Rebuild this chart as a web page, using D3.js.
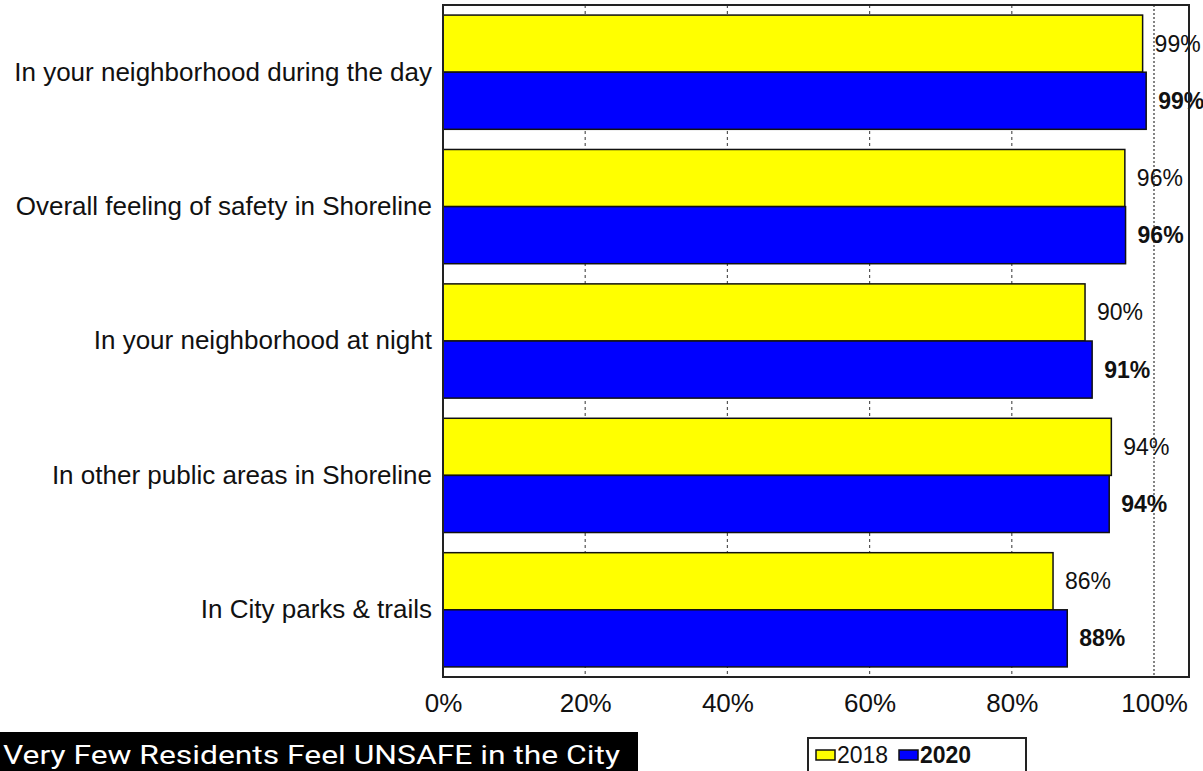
<!DOCTYPE html>
<html>
<head>
<meta charset="utf-8">
<script src="https://cdn.jsdelivr.net/npm/d3@7"></script>
<style>
  body { margin: 0; background: #fff; }
  svg { display: block; }
</style>
</head>
<body>
<script>
// Dimensions
const W = 1203, H = 771;
const plot = { left: 443, right: 1189, top: 5, bottom: 677 };
const FONT = "'Liberation Sans', Arial, sans-serif";

// Data
const CATEGORIES = [
  'In your neighborhood during the day',
  'Overall feeling of safety in Shoreline',
  'In your neighborhood at night',
  'In other public areas in Shoreline',
  'In City parks & trails'
];
const YEARS = ['2018', '2020'];
const VALUES_2018 = [98.4, 95.9, 90.3, 94.0, 85.8];
const VALUES_2020 = [98.9, 96.0, 91.3, 93.7, 87.8];
const LABELS_2018 = ['99%', '96%', '90%', '94%', '86%'];
const LABELS_2020 = ['99%', '96%', '91%', '94%', '88%'];
const X_TICKS = [0, 20, 40, 60, 80, 100];

// Colors
const YELLOW = '#ffff00';
const BLUE = '#0000ff';
const FG = '#111111';

const rows = CATEGORIES.map((c, i) => ({
  cat: c,
  bars: [
    { year: '2018', v: VALUES_2018[i], label: LABELS_2018[i] },
    { year: '2020', v: VALUES_2020[i], label: LABELS_2020[i] }
  ]
}));

// Scales
const x = d3.scaleLinear()
  .domain([0, 100])
  .range([plot.left, 1154]);

const y = d3.scaleBand()
  .domain(CATEGORIES)
  .range([plot.top, plot.bottom])
  .paddingInner(0.15)
  .paddingOuter(0.075);

const yInner = d3.scaleBand()
  .domain(YEARS)
  .range([0, y.bandwidth()]);

const color = d3.scaleOrdinal().domain(YEARS).range([YELLOW, BLUE]);

// SVG
const svg = d3.select('body').append('svg')
  .attr('width', W)
  .attr('height', H)
  .style('font-family', FONT);

svg.append('rect')
  .attr('width', W).attr('height', H)
  .attr('fill', '#fff');

// Grid
svg.append('g')
  .selectAll('line')
  .data(X_TICKS.filter(d => d > 0))
  .join('line')
  .attr('x1', d => x(d)).attr('x2', d => x(d))
  .attr('y1', plot.top).attr('y2', plot.bottom)
  .attr('stroke', d => d === 100 ? '#333' : '#555')
  .attr('stroke-width', 1.2)
  .attr('stroke-dasharray', d => d === 100 ? '2,2' : '3,3');

// Bars
const groups = svg.append('g')
  .selectAll('g')
  .data(rows)
  .join('g')
  .attr('transform', d => `translate(0,${y(d.cat)})`);

groups.selectAll('rect')
  .data(d => d.bars)
  .join('rect')
  .attr('x', x(0))
  .attr('y', d => yInner(d.year))
  .attr('width', d => x(d.v) - x(0))
  .attr('height', yInner.bandwidth())
  .attr('fill', d => color(d.year))
  .attr('stroke', FG)
  .attr('stroke-width', 1.5);

groups.selectAll('text')
  .data(d => d.bars)
  .join('text')
  .attr('x', d => x(d.v) + 12)
  .attr('y', d => yInner(d.year) + yInner.bandwidth() / 2)
  .attr('dy', '0.35em')
  .attr('font-size', '23px')
  .attr('font-weight', d => d.year === '2020' ? 'bold' : 'normal')
  .attr('fill', FG)
  .text(d => d.label);

// Frame
svg.append('rect')
  .attr('x', plot.left).attr('y', plot.top)
  .attr('width', plot.right - plot.left)
  .attr('height', plot.bottom - plot.top)
  .attr('fill', 'none')
  .attr('stroke', '#222')
  .attr('stroke-width', 2);

// Axes
const yAxis = g => g
  .attr('transform', `translate(${plot.left - 11},0)`)
  .call(d3.axisLeft(y).tickSize(0).tickPadding(0))
  .call(g => g.select('.domain').remove())
  .call(g => g.selectAll('text')
    .attr('font-size', '26px')
    .attr('font-family', FONT)
    .attr('fill', FG));

const xAxis = g => g
  .attr('transform', `translate(0,${plot.bottom})`)
  .call(d3.axisBottom(x).tickValues(X_TICKS).tickFormat(d => d + '%').tickSize(0).tickPadding(17))
  .call(g => g.select('.domain').remove())
  .call(g => g.selectAll('text')
    .attr('font-size', '26px')
    .attr('font-family', FONT)
    .attr('fill', FG));

svg.append('g').call(yAxis);
svg.append('g').call(xAxis);

// Caption
svg.append('rect')
  .attr('x', 0).attr('y', 732)
  .attr('width', 638).attr('height', H - 732)
  .attr('fill', '#000');

svg.append('text')
  .attr('x', 3)
  .attr('y', 764)
  .attr('font-family', "'Liberation Sans Narrow', 'Arial Narrow', Roboto, sans-serif")
  .attr('font-size', '26px')
  .attr('textLength', 617)
  .attr('lengthAdjust', 'spacingAndGlyphs')
  .attr('fill', '#fff')
  .text('Very Few Residents Feel UNSAFE in the City');

// Legend
const legend = svg.append('g').attr('transform', 'translate(808,738)');
legend.append('rect')
  .attr('width', 218).attr('height', 50)
  .attr('fill', '#fff')
  .attr('stroke', '#222')
  .attr('stroke-width', 2);

const items = legend.selectAll('g')
  .data(YEARS)
  .join('g')
  .attr('transform', (d, i) => `translate(${8 + i * 83},12)`);

items.append('rect')
  .attr('width', 19).attr('height', 10)
  .attr('fill', d => color(d))
  .attr('stroke', FG)
  .attr('stroke-width', 1.5);

items.append('text')
  .attr('x', 21)
  .attr('y', 5)
  .attr('dy', '0.35em')
  .attr('font-size', '23px')
  .attr('font-weight', d => d === '2020' ? 'bold' : 'normal')
  .attr('fill', FG)
  .text(d => d);
</script>
</body>
</html>
